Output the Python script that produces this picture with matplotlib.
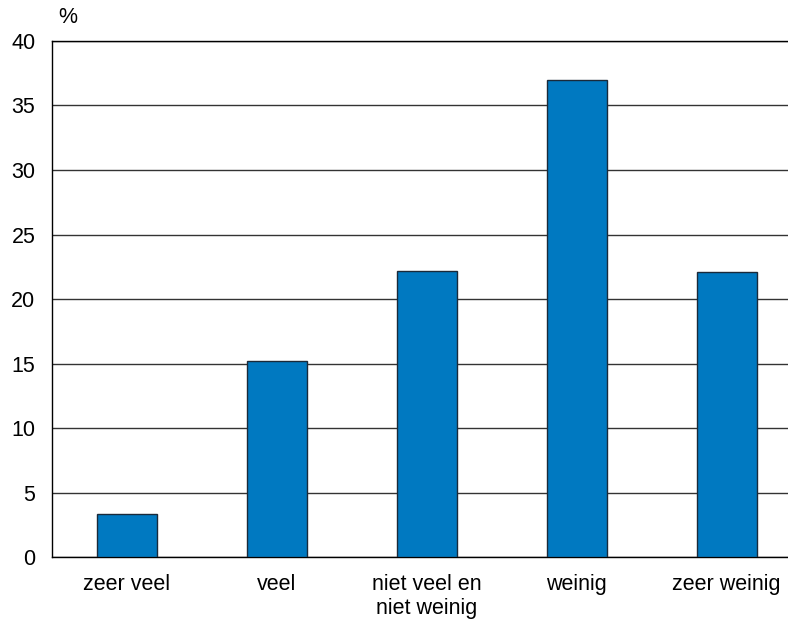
import matplotlib.pyplot as plt
import numpy as np

plt.rcParams['font.family'] = ['Liberation Sans', 'DejaVu Sans']

categories = ['zeer veel', 'veel', 'niet veel en\nniet weinig', 'weinig', 'zeer weinig']
percentages = [3.3, 15.2, 22.2, 37.0, 22.1]
y_ticks = [0, 5, 10, 15, 20, 25, 30, 35, 40]

fig = plt.figure(figsize=(7.88, 6.21), dpi=100)
ax = fig.add_axes([0.066, 0.103, 0.934, 0.831])

x = np.arange(len(categories))
ax.bar(x, percentages, width=0.4, color='#0079C1', edgecolor='#1a2a3a',
       linewidth=1.0, zorder=3)

ax.set_ylim(0, 40)
ax.set_xlim(-0.5, 4.41)
ax.set_yticks(y_ticks)
ax.set_xticks(x)
ax.set_xticklabels(categories, fontsize=15.5, linespacing=1.22)
ax.tick_params(axis='y', labelsize=15.5, length=0, pad=12)
ax.tick_params(axis='x', length=0, pad=12)

ax.yaxis.grid(True, color='#333333', linewidth=1.0, zorder=0)
ax.set_axisbelow(True)
ax.spines['right'].set_visible(False)
for side in ['left', 'bottom', 'top']:
    ax.spines[side].set_color('black')
    ax.spines[side].set_linewidth(1.0)

ax.text(0.008, 1.025, '%', transform=ax.transAxes, fontsize=15.5,
        ha='left', va='bottom')

fig.savefig('out.png', dpi=100)
